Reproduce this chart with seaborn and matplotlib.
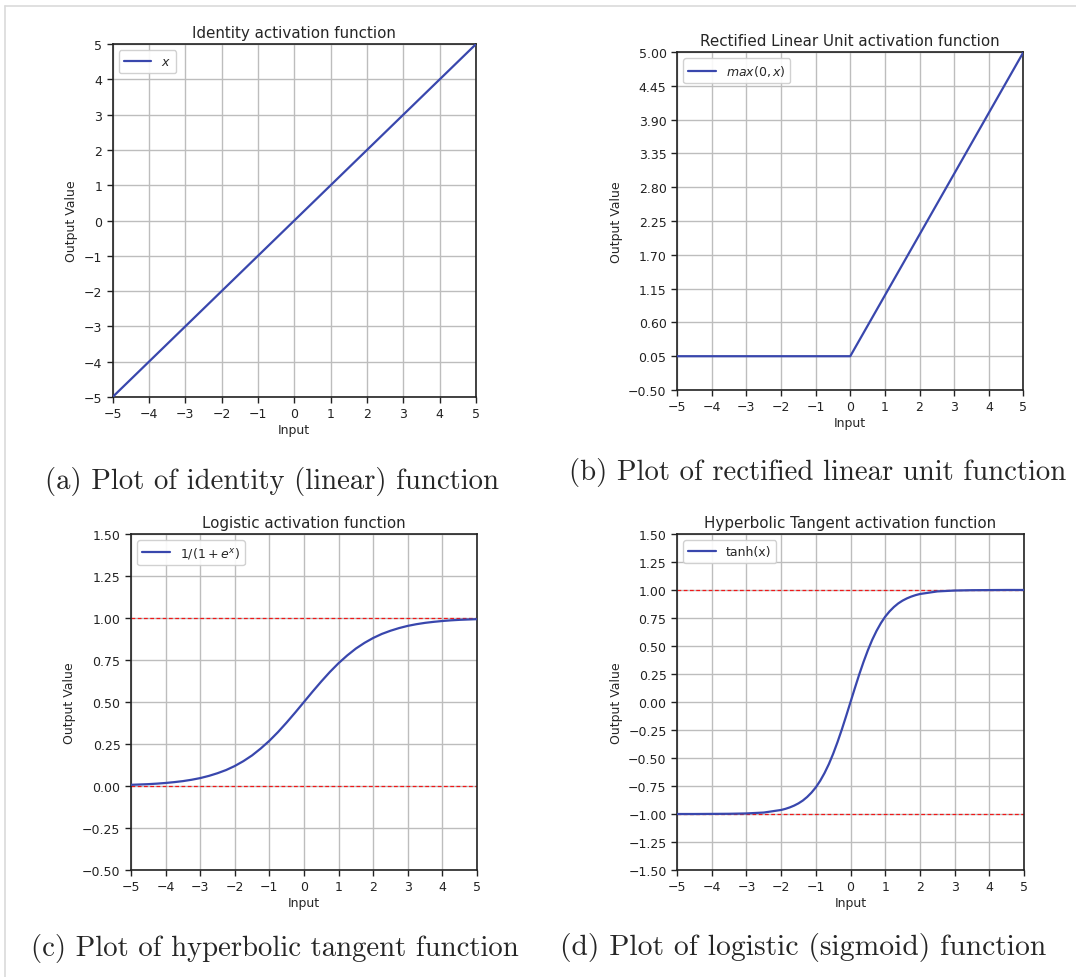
import numpy as np
import pandas as pd
import matplotlib
matplotlib.use("Agg")
import matplotlib.pyplot as plt
from matplotlib.lines import Line2D
import seaborn as sns

# values
x_identity = [-5, 5]
y_identity = [-5, 5]

x_relu = [-5, 0, 5]
y_relu = [0.05, 0.05, 5.0]

x_logistic = [-5, -4.75, -4.5, -4.25, -4, -3.75, -3.5, -3.25, -3, -2.75, -2.5,
              -2.25, -2, -1.75, -1.5, -1.25, -1, -0.75, -0.5, -0.25, 0,
              0.25, 0.5, 0.75, 1, 1.25, 1.5, 1.75, 2, 2.25, 2.5,
              2.75, 3, 3.25, 3.5, 3.75, 4, 4.25, 4.5, 4.75, 5]
y_logistic = [0.007, 0.009, 0.011, 0.014, 0.018, 0.023, 0.029, 0.037, 0.047, 0.060, 0.076,
              0.095, 0.119, 0.148, 0.182, 0.223, 0.269, 0.321, 0.378, 0.438, 0.500,
              0.562, 0.622, 0.679, 0.731, 0.777, 0.818, 0.852, 0.881, 0.905, 0.924,
              0.940, 0.953, 0.963, 0.971, 0.977, 0.982, 0.986, 0.989, 0.991, 0.993]

x_tanh = [-5, -4.5, -4, -3.5, -3, -2.5,
          -2, -1.875, -1.75, -1.625, -1.5, -1.375, -1.25, -1.125,
          -1, -0.875, -0.75, -0.625, -0.5, -0.375, -0.25, -0.125,
          0, 0.125, 0.25, 0.375, 0.5, 0.625, 0.75, 0.875,
          1, 1.125, 1.25, 1.375, 1.5, 1.625, 1.75, 1.875,
          2, 2.5, 3, 3.5, 4, 4.5, 5]
y_tanh = [-1.000, -1.000, -0.999, -0.998, -0.995, -0.987,
          -0.964, -0.954, -0.941, -0.925, -0.905, -0.880, -0.848, -0.809,
          -0.762, -0.704, -0.635, -0.555, -0.462, -0.358, -0.245, -0.124,
          0.000, 0.124, 0.245, 0.358, 0.462, 0.555, 0.635, 0.704,
          0.762, 0.809, 0.848, 0.880, 0.905, 0.925, 0.941, 0.954,
          0.964, 0.987, 0.995, 0.998, 0.999, 1.000, 1.000]

x_ticks = [-5, -4, -3, -2, -1, 0, 1, 2, 3, 4, 5]
yticks_identity = [-5, -4, -3, -2, -1, 0, 1, 2, 3, 4, 5]
yticks_relu = [-0.50, 0.05, 0.60, 1.15, 1.70, 2.25, 2.80, 3.35, 3.90, 4.45, 5.00]
yticks_logistic = [-0.50, -0.25, 0.00, 0.25, 0.50, 0.75, 1.00, 1.25, 1.50]
yticks_tanh = [-1.50, -1.25, -1.00, -0.75, -0.50, -0.25, 0.00, 0.25, 0.50, 0.75, 1.00, 1.25, 1.50]

refs_logistic = [0.0, 1.0]
refs_tanh = [-1.0, 1.0]

titles = ["Identity activation function",
          "Rectified Linear Unit activation function",
          "Logistic activation function",
          "Hyperbolic Tangent activation function"]
labels = ["$x$", "$max(0,x)$", "$1/(1+e^x)$", "tanh(x)"]
captions = ["(a) Plot of identity (linear) function",
            "(b) Plot of rectified linear unit function",
            "(c) Plot of hyperbolic tangent function",
            "(d) Plot of logistic (sigmoid) function"]

sns.set_style("ticks")
plt.rcParams["font.family"] = ["DejaVu Sans"]
plt.rcParams["axes.unicode_minus"] = True

blue = "#3947ad"
fig = plt.figure(figsize=(10.76, 9.78), dpi=100)

boxes = [[0.1046, 0.5930, 0.3378, 0.3609],
         [0.6292, 0.6002, 0.3220, 0.3456],
         [0.1217, 0.1094, 0.3216, 0.3436],
         [0.6292, 0.1094, 0.3225, 0.3436]]
xs = [x_identity, x_relu, x_logistic, x_tanh]
ys = [y_identity, y_relu, y_logistic, y_tanh]
yticks = [yticks_identity, yticks_relu, yticks_logistic, yticks_tanh]
refs = [[], [], refs_logistic, refs_tanh]
fmts = ["{:g}", "{:.2f}", "{:.2f}", "{:.2f}"]

for i in range(4):
    ax = fig.add_axes(boxes[i])
    ax.grid(True, color="#bdbdbd", linewidth=1.0)
    ax.set_axisbelow(True)
    for r in refs[i]:
        ax.axhline(r, color="#f01818", linestyle=(0, (3, 2)), linewidth=0.9, zorder=1)
    df = pd.DataFrame({"Input": xs[i], "Output Value": ys[i]})
    sns.lineplot(data=df, x="Input", y="Output Value", ax=ax, color=blue,
                 linewidth=1.6, label=labels[i], zorder=3)
    ax.set_xlim(-5, 5)
    ax.set_ylim(yticks[i][0], yticks[i][-1])
    ax.set_xticks(x_ticks)
    ax.set_yticks(yticks[i])
    ax.set_yticklabels([fmts[i].format(v).replace("-", "\u2212") for v in yticks[i]])
    ax.set_xticklabels([str(v).replace("-", "\u2212") for v in x_ticks])
    ax.tick_params(labelsize=9, length=4, width=1, colors="#222222")
    ax.set_title(titles[i], fontsize=10.9, pad=5)
    ax.set_xlabel("Input", fontsize=9, labelpad=2)
    ax.set_ylabel("Output Value", fontsize=9, labelpad=4)
    for s in ax.spines.values():
        s.set_visible(True)
        s.set_color("#222222")
        s.set_linewidth(1.2)
    ax.legend(loc="upper left", fontsize=9, handlelength=2.2, framealpha=0.9,
              edgecolor="#cccccc", fancybox=True)

cap_pos = [(272, 481), (818, 472), (275, 948), (803, 948)]
cap_size = [20.7, 20.7, 20.7, 21.3]
for (px, py), c, fs in zip(cap_pos, captions, cap_size):
    fig.text(px / 1076, 1 - py / 978, c, ha="center", va="center",
             fontsize=fs, family="cmr10")

fig.add_artist(Line2D([0.005, 1.0], [1 - 7 / 978, 1 - 7 / 978], color="#dadada", linewidth=1.2))
fig.add_artist(Line2D([0.005, 0.005], [0.0, 1 - 7 / 978], color="#dadada", linewidth=1.2))

fig.savefig("out.png", dpi=100)
